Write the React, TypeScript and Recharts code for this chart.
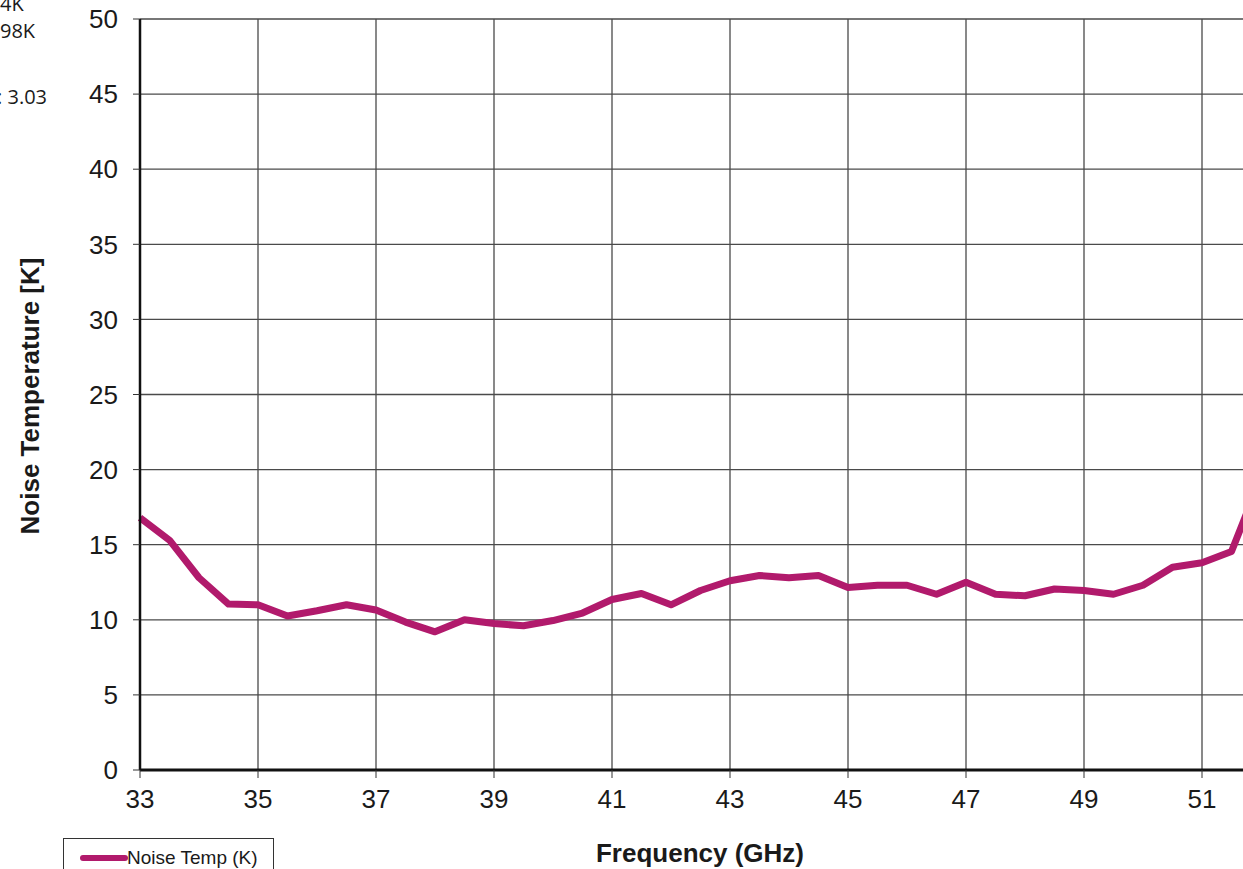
import React from "react";
import { LineChart, Line, XAxis, YAxis, CartesianGrid } from "recharts";

// Measured noise temperature versus frequency, sampled every 0.5 GHz
const frequencies = [
  33, 33.5, 34, 34.5, 35, 35.5, 36, 36.5, 37, 37.5, 38, 38.5, 39, 39.5, 40,
  40.5, 41, 41.5, 42, 42.5, 43, 43.5, 44, 44.5, 45, 45.5, 46, 46.5, 47, 47.5,
  48, 48.5, 49, 49.5, 50, 50.5, 51, 51.5, 52,
];
const noiseTemp = [
  16.8, 15.3, 12.8, 11.05, 11.0, 10.25, 10.6, 11.0, 10.65, 9.85, 9.2, 10.0,
  9.75, 9.6, 9.95, 10.45, 11.35, 11.75, 11.0, 11.95, 12.6, 12.95, 12.8, 12.95,
  12.15, 12.3, 12.3, 11.7, 12.5, 11.7, 11.6, 12.05, 11.95, 11.7, 12.3, 13.5,
  13.8, 14.55, 19.5,
];
const xTicks = [33, 35, 37, 39, 41, 43, 45, 47, 49, 51];
const yTicks = [0, 5, 10, 15, 20, 25, 30, 35, 40, 45, 50];
const sideNotes = ["4K", "98K", ": 3.03"];

const data = frequencies.map((f, i) => ({ freq: f, temp: noiseTemp[i] }));

const LINE_COLOR = "#B11A6C";
const FONT = "'Liberation Sans', Arial, sans-serif";

export default function App() {
  return (
    <div
      style={{
        position: "absolute",
        left: 0,
        top: 0,
        width: 1243,
        height: 869,
        overflow: "hidden",
        background: "#ffffff",
        fontFamily: FONT,
      }}
    >
      <LineChart
        width={1266}
        height={869}
        data={data}
        margin={{ top: 19, right: 5, left: 0, bottom: 0 }}
      >
        <CartesianGrid stroke="#4a4a4a" strokeWidth={1.3} />
        <XAxis
          dataKey="freq"
          type="number"
          domain={[33, 52]}
          ticks={xTicks}
          height={99}
          tickSize={8}
          tickMargin={12}
          axisLine={{ stroke: "#111", strokeWidth: 3 }}
          tickLine={{ stroke: "#333", strokeWidth: 1 }}
          tick={{ fill: "#1a1a1a", fontSize: 26, fontFamily: FONT }}
        />
        <YAxis
          type="number"
          domain={[0, 50]}
          ticks={yTicks}
          width={140}
          tickSize={7}
          tickMargin={15}
          axisLine={{ stroke: "#111", strokeWidth: 2.5 }}
          tickLine={{ stroke: "#333", strokeWidth: 1 }}
          tick={{ fill: "#1a1a1a", fontSize: 26, fontFamily: FONT }}
        />
        <Line
          type="linear"
          dataKey="temp"
          stroke={LINE_COLOR}
          strokeWidth={7}
          strokeLinejoin="round"
          dot={false}
          isAnimationActive={false}
        />
      </LineChart>

      {/* Axis titles */}
      <div
        style={{
          position: "absolute",
          left: 30,
          top: 396,
          transform: "translate(-50%, -50%) rotate(-90deg)",
          fontSize: 26,
          fontWeight: "bold",
          color: "#1a1a1a",
          whiteSpace: "nowrap",
          lineHeight: 1,
        }}
      >
        Noise Temperature [K]
      </div>
      <div
        style={{
          position: "absolute",
          left: 700,
          top: 853,
          transform: "translate(-50%, -50%)",
          fontSize: 26,
          fontWeight: "bold",
          color: "#1a1a1a",
          whiteSpace: "nowrap",
          lineHeight: 1,
        }}
      >
        Frequency (GHz)
      </div>

      {/* Legend */}
      <div
        style={{
          position: "absolute",
          left: 63,
          top: 838,
          width: 211,
          height: 60,
          border: "1px solid #333",
          boxSizing: "border-box",
        }}
      >
        <div
          style={{
            position: "absolute",
            left: 16,
            top: 16,
            width: 48,
            height: 6,
            borderRadius: 3,
            background: LINE_COLOR,
          }}
        />
        <div
          style={{
            position: "absolute",
            left: 63,
            top: 9,
            fontSize: 19,
            lineHeight: 1,
            color: "#1a1a1a",
            whiteSpace: "nowrap",
          }}
        >
          Noise Temp (K)
        </div>
      </div>

      {/* Notes at the left edge */}
      {sideNotes.map((t, i) => (
        <div
          key={t}
          style={{
            position: "absolute",
            left: i === 2 ? -3 : 0,
            top: [-6, 21, 87][i],
            fontSize: 20,
            lineHeight: "20px",
            height: 20,
            fontFamily: "'Open Sans', sans-serif",
            color: "#1a1a1a",
            whiteSpace: "nowrap",
          }}
        >
          {t}
        </div>
      ))}
    </div>
  );
}
